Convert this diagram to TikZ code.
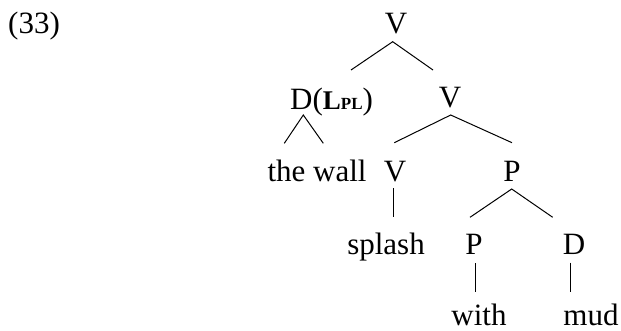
\documentclass[tikz,border=0pt]{standalone}
\usepackage{fontspec}
\setmainfont{Liberation Serif}
\begin{document}
\begin{tikzpicture}[x=1pt,y=-1pt,
  lab/.style={inner sep=0pt, anchor=base, font=\fontsize{31}{37}\selectfont},
  labw/.style={lab, anchor=base west},
  edge/.style={line width=1pt, black}]
\useasboundingbox (0,0) rectangle (621,330);
% labels
\node[labw] (ex) at (8,33) {(33)};
\node[lab] (V0) at (396,33) {V};
\node[labw] (D1) at (290,109) {D({\fontsize{27}{27}\selectfont\bfseries L}{\fontsize{17}{17}\selectfont\bfseries PL})};
\node[lab] (V1) at (450,107) {V};
\node[lab] (thewall) at (317,181) {the wall};
\node[lab] (V2) at (395,181) {V};
\node[lab] (P2) at (512,181) {P};
\node[lab] (splash) at (386,254) {splash};
\node[lab] (P3) at (474,254) {P};
\node[lab] (D3) at (574,254) {D};
\node[lab, text depth=0pt] (with) at (479,325.5) {with};
\node[lab, text depth=0pt] (mud) at (591,325.5) {mud};
% connector end points, relative to the nodes
\path (V0.base) ++(-3.3,8.7) coordinate (V0s);
\path (D1.base west) ++(13.3,6) coordinate (D1s);
\path (D1.base west) ++(61,-39) coordinate (D1n);
\path (V1.base) ++(0.7,8) coordinate (V1s);
\path (V1.base) ++(-17,-37) coordinate (V1n);
\path (thewall.base) ++(-32.7,-37.7) coordinate (twnl);
\path (thewall.base) ++(6.3,-37.7) coordinate (twnr);
\path (V2.base) ++(-0.7,-38.3) coordinate (V2n);
\path (V2.base) ++(-1.7,7.3) coordinate (V2s);
\path (P2.base) ++(0,-38.3) coordinate (P2n);
\path (P2.base) ++(-0.3,8) coordinate (P2s);
\path (splash.base) ++(7.3,-37.3) coordinate (spn);
\path (P3.base) ++(-4,-36.7) coordinate (P3n);
\path (P3.base) ++(1,9.3) coordinate (P3s);
\path (D3.base) ++(-21.3,-36.7) coordinate (D3n);
\path (D3.base) ++(-3.5,8.5) coordinate (D3s);
\path (with.base) ++(-4,-33.8) coordinate (withn);
\path (mud.base) ++(-20.5,-33.8) coordinate (mudn);
% connectors
\draw[edge] (D1n) -- (V0s) -- (V1n);
\draw[edge] (twnl) -- (D1s) -- (twnr);
\draw[edge] (V2n) -- (V1s) -- (P2n);
\draw[edge] (V2s) -- (spn);
\draw[edge] (P3n) -- (P2s) -- (D3n);
\draw[edge] (P3s) -- (withn);
\draw[edge] (D3s) -- (mudn);
\end{tikzpicture}
\end{document}
